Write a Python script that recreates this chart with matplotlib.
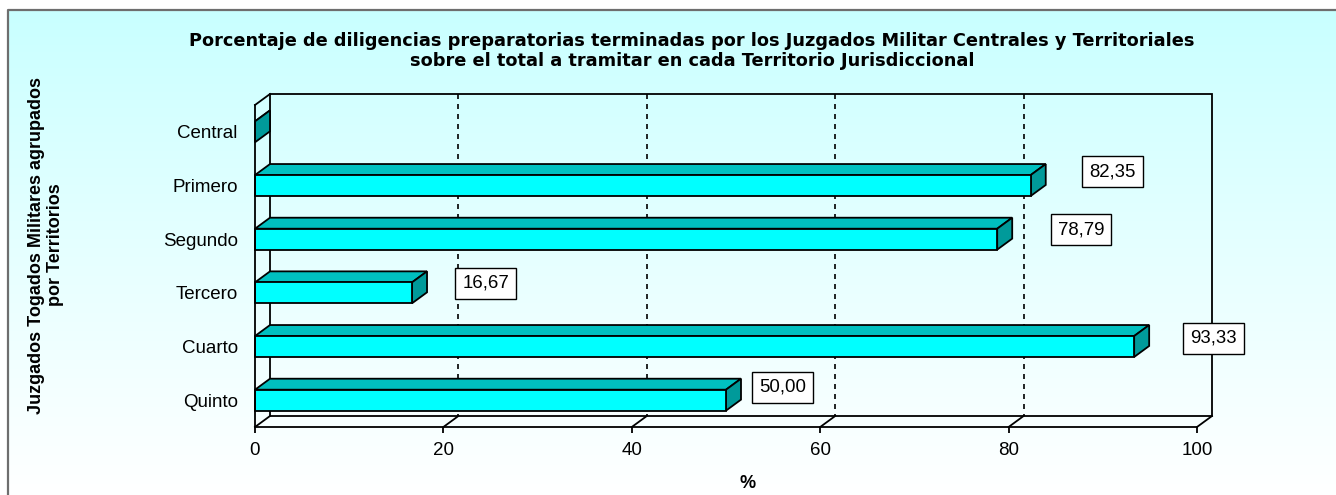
import numpy as np
import matplotlib
matplotlib.use("Agg")
import matplotlib.pyplot as plt
from matplotlib.patches import Polygon

plt.rcParams['font.family'] = ['Liberation Sans', 'DejaVu Sans']

# ---- data ----
categories = ["Central", "Primero", "Segundo", "Tercero", "Cuarto", "Quinto"]
values = [0.0, 82.35, 78.79, 16.67, 93.33, 50.00]
value_labels = ["", "82,35", "78,79", "16,67", "93,33", "50,00"]
xticks = [0, 20, 40, 60, 80, 100]
title = ("Porcentaje de diligencias preparatorias terminadas por los Juzgados Militar Centrales y Territoriales\n"
         "sobre el total a tramitar en cada Territorio Jurisdiccional")
ylabel = "Juzgados Togados Militares agrupados\npor Territorios"
xlabel = "%"

# ---- layout / style ----
W, H = 1336, 495
DPI = 100
label_dx = [0, 8.7, 8.9, 7.8, 8.4, 6.0]      # label offset (value units)
label_dy = [0, -0.26, -0.18, -0.18, -0.15, -0.24]  # label offset (category units)
front_c = "#00FFFF"
top_c = "#00C0C0"
side_c = "#009A9A"

fig = plt.figure(figsize=(W / DPI, H / DPI), dpi=DPI)

# background gradient + border
bg = fig.add_axes([0, 0, 1, 1], zorder=0)
bg.set_xlim(0, W)
bg.set_ylim(H, 0)
bg.axis('off')
grad = np.linspace(0, 1, 256)[:, None]
top_rgb = np.array([200, 255, 255]) / 255.0
bot_rgb = np.array([255, 255, 255]) / 255.0
t = np.clip(grad, 0, 1) ** 0.9
img = top_rgb[None, None, :] * (1 - t[..., None]) + bot_rgb[None, None, :] * t[..., None]
img = np.repeat(img, 2, axis=1)
bg.imshow(img, extent=[8, W, H, 10], aspect='auto', interpolation='bicubic')
bg.plot([8, 8, W], [H, 10, 10], color="#6E6E6E", lw=1.6, solid_capstyle='butt')

# main axes (front plane)
x0px, x1px = 255, 1197
ytop, ybot = 105, 427
ax = fig.add_axes([x0px / W, 1 - ybot / H, (x1px - x0px) / W, (ybot - ytop) / H], zorder=2)
ax.patch.set_alpha(0)
ax.set_xlim(0, 100)
n = len(categories)
ax.set_ylim(n - 0.5, -0.5)

px_per_x = (x1px - x0px) / 100.0
px_per_y = (ybot - ytop) / n
dx = 15 / px_per_x
dy = 11 / px_per_y
hh = 0.195
lw = 1.3
k = 'black'

ymin, ymax = -0.5, n - 0.5

# back wall
ax.add_patch(Polygon([(dx, ymin - dy), (100 + dx, ymin - dy), (100 + dx, ymax - dy), (dx, ymax - dy)],
                     closed=True, fill=False, ec=k, lw=lw, clip_on=False, zorder=1))
# gridlines on back wall and floor diagonals
for tv in xticks[1:-1]:
    ax.plot([tv + dx, tv + dx], [ymin - dy, ymax - dy], color=k, lw=1.2, ls=(0, (3, 3)), clip_on=False, zorder=1)
for tv in xticks[1:]:
    ax.plot([tv, tv + dx], [ymax, ymax - dy], color=k, lw=lw, clip_on=False, zorder=1)
# left wall connectors
ax.plot([0, dx], [ymin, ymin - dy], color=k, lw=lw, clip_on=False, zorder=1)
ax.plot([0, dx], [ymax, ymax - dy], color=k, lw=lw, clip_on=False, zorder=1)

# bars
for i, v in enumerate(values):
    c = i
    yt, yb = c - hh, c + hh
    top = Polygon([(0, yt), (v, yt), (v + dx, yt - dy), (dx, yt - dy)], closed=True,
                  fc=top_c, ec=k, lw=lw, clip_on=False, zorder=3, joinstyle='miter')
    side = Polygon([(v, yt), (v + dx, yt - dy), (v + dx, yb - dy), (v, yb)], closed=True,
                   fc=side_c, ec=k, lw=lw, clip_on=False, zorder=3, joinstyle='miter')
    ax.add_patch(top)
    ax.add_patch(side)
    if v > 0:
        ax.barh(c, v, height=2 * hh, color=front_c, edgecolor=k, lw=lw, zorder=4, clip_on=False)
    if value_labels[i]:
        ax.text(v + label_dx[i], c + label_dy[i], value_labels[i], ha='center', va='center',
                fontsize=13.4, zorder=6, clip_on=False,
                bbox=dict(boxstyle='square,pad=0.38', fc='white', ec=k, lw=1.0))

# spines / ticks
for s in ['top', 'right']:
    ax.spines[s].set_visible(False)
for s in ['left', 'bottom']:
    ax.spines[s].set_linewidth(lw)
    ax.spines[s].set_zorder(5)
ax.set_xticks(xticks)
ax.set_xticklabels([str(v) for v in xticks], fontsize=13.5)
ax.tick_params(axis='x', length=4, width=lw, pad=6.5, direction='out')
ax.set_yticks(range(n))
ax.set_yticklabels(categories, fontsize=13.5)
ax.tick_params(axis='y', length=0, pad=12.5)

fig.text(692 / W, 1 - 51 / H, title, ha='center', va='center', fontsize=12.75, fontweight='bold',
         family=['DejaVu Sans'], linespacing=1.12)
fig.text(46 / W, 1 - 245 / H, ylabel, ha='center', va='center', rotation=90, fontsize=13,
         fontweight='bold', linespacing=1.1)
fig.text(748 / W, 1 - 484 / H, xlabel, ha='center', va='center', fontsize=13, fontweight='bold')

fig.savefig("out.png", dpi=DPI)
